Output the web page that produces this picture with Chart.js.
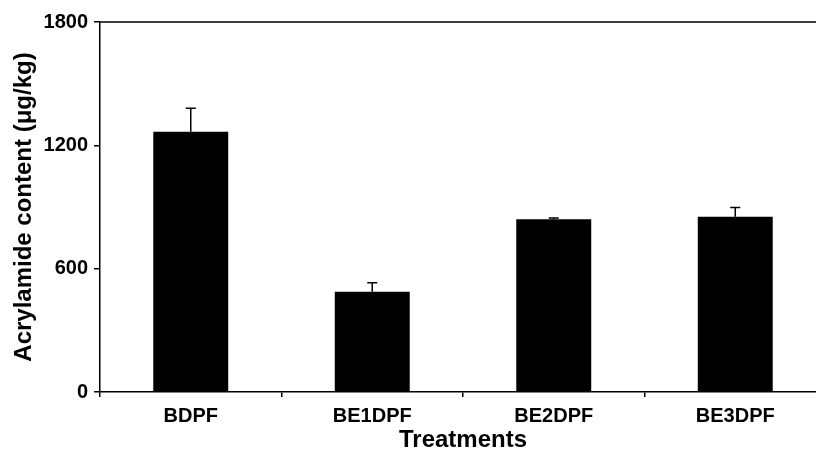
<!DOCTYPE html>
<html>
<head>
<meta charset="utf-8">
<script src="https://cdn.jsdelivr.net/npm/chart.js@4"></script>
<style>
  html, body { margin: 0; padding: 0; background: #fff; overflow: hidden; }
  #wrap { width: 830px; height: 453px; }
</style>
</head>
<body>
<div id="wrap"><canvas id="myChart" width="830" height="453"></canvas></div>
<script>
// data
const treatments = ['BDPF', 'BE1DPF', 'BE2DPF', 'BE3DPF'];
const acrylamide = [1266, 488, 840, 853];   // µg/kg
const errUp = [114, 44, 6, 44];             // upper error bar
const yTicks = [0, 600, 1200, 1800];

const FONT = '"Liberation Sans", Arial, sans-serif';

// error bars + top frame line
const extras = {
  id: 'extras',
  afterDatasetsDraw(chart) {
    const ctx = chart.ctx;
    const y = chart.scales.y;
    const meta = chart.getDatasetMeta(0);
    ctx.save();
    ctx.strokeStyle = '#000';
    ctx.lineWidth = 1.5;
    meta.data.forEach((bar, i) => {
      const yb = y.getPixelForValue(acrylamide[i]);
      const yt = y.getPixelForValue(acrylamide[i] + errUp[i]);
      ctx.beginPath();
      ctx.moveTo(bar.x, yb);
      ctx.lineTo(bar.x, yt);
      ctx.moveTo(bar.x - 5, yt);
      ctx.lineTo(bar.x + 5, yt);
      ctx.stroke();
    });
    // top line of the frame
    const a = chart.chartArea;
    ctx.beginPath();
    ctx.moveTo(a.left, a.top);
    ctx.lineTo(a.right, a.top);
    ctx.stroke();
    ctx.restore();
  }
};

new Chart(document.getElementById('myChart'), {
  type: 'bar',
  data: {
    labels: treatments,
    datasets: [{
      data: acrylamide,
      backgroundColor: '#000',
      borderWidth: 0,
      categoryPercentage: 1,
      barPercentage: 0.413
    }]
  },
  options: {
    responsive: false,
    animation: false,
    layout: { padding: { top: 22, right: 4, left: 0, bottom: 0 } },
    plugins: { legend: { display: false }, tooltip: { enabled: false } },
    scales: {
      x: {
        grid: { offset: true, drawOnChartArea: false, tickLength: 5, color: '#000', lineWidth: 1.5 },
        border: { color: '#000', width: 1.5 },
        ticks: { color: '#000', font: { family: FONT, size: 20, weight: 'bold' }, padding: 7 },
        title: { display: true, text: 'Treatments', color: '#000', font: { family: FONT, size: 24, weight: 'bold', lineHeight: 1 }, padding: { top: 0, bottom: 1 } },
        afterFit(scale) { scale.height = 61; }
      },
      y: {
        min: 0,
        max: 1800,
        afterBuildTicks(scale) { scale.ticks = yTicks.map(v => ({ value: v })); },
        grid: { drawOnChartArea: false, tickLength: 6, color: '#000', lineWidth: 1.5 },
        border: { color: '#000', width: 1.5 },
        ticks: { color: '#000', font: { family: FONT, size: 20, weight: 'bold' }, padding: 6, callback: v => String(v) },
        title: { display: true, text: 'Acrylamide content (μg/kg)', color: '#000', font: { family: FONT, size: 24, weight: 'bold' }, padding: { top: 10, bottom: 0 } },
        afterFit(scale) { scale.width = 100; }
      }
    }
  },
  plugins: [extras]
});
</script>
</body>
</html>
